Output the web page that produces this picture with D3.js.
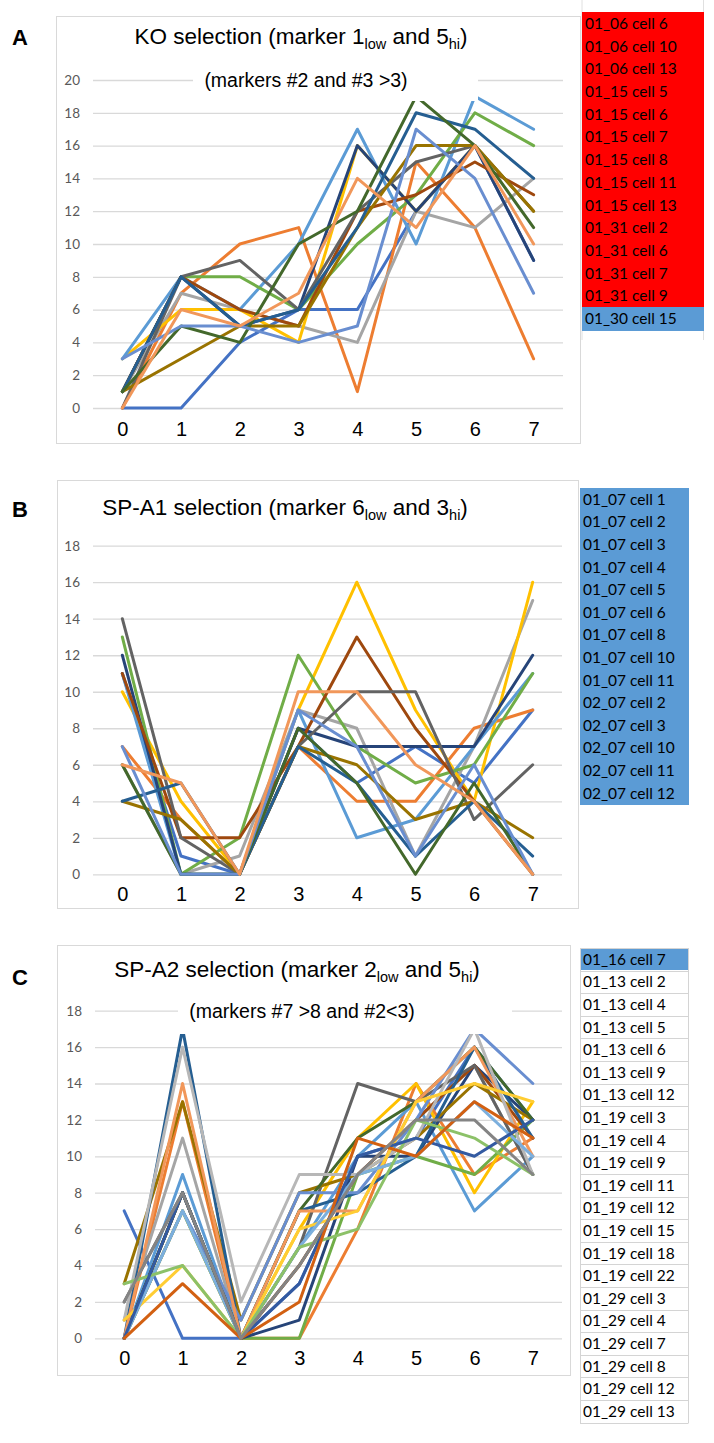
<!DOCTYPE html>
<html><head><meta charset="utf-8">
<script src="https://cdn.jsdelivr.net/npm/d3@7"></script>
<style>
html,body{margin:0;padding:0;background:#fff;}
svg{display:block;}
</style></head>
<body>
<svg id="chart" width="714" height="1443"></svg>
<script>
// ---------- DATA ----------
const categories = [0,1,2,3,4,5,6,7];
const ticksA = [0,2,4,6,8,10,12,14,16,18,20];
const ticksBC = [0,2,4,6,8,10,12,14,16,18];
const palette = ["#4472C4","#ED7D31","#A5A5A5","#FFC000","#5B9BD5","#70AD47","#264478","#9E480E",
  "#636363","#997300","#255E91","#43682B","#698ED0","#F1975A","#B7B7B7","#FFCD33","#7CAFDD",
  "#8CC168","#335AA1","#D26012","#848484"];

const koNames = ["01_06 cell 6","01_06 cell 10","01_06 cell 13","01_15 cell 5","01_15 cell 6","01_15 cell 7",
  "01_15 cell 8","01_15 cell 11","01_15 cell 13","01_31 cell 2","01_31 cell 6","01_31 cell 7","01_31 cell 9","01_30 cell 15"];
const koValues = [
  [0,0,4,6,6,12,16,9],
  [0,7,10,11,1,15,11,3],
  [1,7,6,5,4,12,11,14],
  [3,6,6,4,16,12,16,12],
  [3,8,6,10,17,10,19,17],
  [1,8,8,6,10,13,18,16],
  [1,8,5,6,16,12,16,9],
  [1,8,6,5,12,13,15,13],
  [0,8,9,6,12,15,16,12],
  [1,3,5,5,11,16,16,12],
  [1,8,5,6,11,18,17,14],
  [1,5,4,10,12,19,16,11],
  [3,5,5,4,5,17,14,7],
  [0,6,5,7,14,11,16,10]
];

const spa1Names = ["01_07 cell 1","01_07 cell 2","01_07 cell 3","01_07 cell 4","01_07 cell 5","01_07 cell 6",
  "01_07 cell 8","01_07 cell 10","01_07 cell 11","02_07 cell 2","02_07 cell 3","02_07 cell 10","02_07 cell 11","02_07 cell 12"];
const spa1Values = [
  [11,1,0,8,5,7,5,9],
  [7,3,0,7,4,4,8,9],
  [6,0,1,9,8,1,7,15],
  [10,4,0,9,16,9,4,16],
  [11,0,0,9,2,3,7,11],
  [13,0,2,12,7,5,6,11],
  [12,0,0,8,7,7,7,12],
  [11,2,2,7,13,8,4,0],
  [14,2,0,7,10,10,3,6],
  [4,3,0,7,6,3,4,2],
  [4,5,0,7,5,1,4,1],
  [6,0,0,8,5,0,5,0],
  [7,0,0,9,7,1,6,0],
  [6,5,0,10,10,6,4,0]
];

const spa2Names = ["01_16 cell 7","01_13 cell 2","01_13 cell 4","01_13 cell 5","01_13 cell 6","01_13 cell 9",
  "01_13 cell 12","01_19 cell 3","01_19 cell 4","01_19 cell 9","01_19 cell 11","01_19 cell 12","01_19 cell 15",
  "01_19 cell 18","01_19 cell 22","01_29 cell 3","01_29 cell 4","01_29 cell 7","01_29 cell 8","01_29 cell 12","01_29 cell 13"];
const spa2Values = [
  [7,0,0,3,10,11,16,12],
  [0,13,0,0,6,14,9,11],
  [1,11,0,4,9,12,15,9],
  [0,7,0,6,11,14,8,13],
  [0,9,0,5,10,13,7,10],
  [0,7,0,0,9,10,9,12],
  [0,8,0,1,10,10,15,12],
  [0,8,0,4,9,12,15,11],
  [2,8,0,5,14,13,15,9],
  [3,13,1,8,9,11,14,12],
  [0,17,0,7,8,10,16,11],
  [0,8,0,7,11,13,16,12],
  [0,7,1,8,8,12,17,14],
  [0,14,0,7,7,13,16,10],
  [1,16,2,9,9,11,17,9],
  [1,4,0,6,7,13,14,13],
  [0,7,0,5,9,10,13,10],
  [3,4,0,5,6,12,11,9],
  [0,8,0,3,10,11,10,12],
  [0,3,0,2,11,10,13,11],
  [2,8,0,4,9,12,12,9]
];

// ---------- DRAW ----------
const svg = d3.select("#chart");
const FONT_AX = "Arial, 'Liberation Sans', sans-serif";
const FONT_CAL = "Lato, 'Open Sans', sans-serif";

function panel(opt){
  const g = svg.append("g");
  g.append("rect").attr("x",opt.frame[0]+0.5).attr("y",opt.frame[1]+0.5)
    .attr("width",opt.frame[2]-opt.frame[0]).attr("height",opt.frame[3]-opt.frame[1])
    .attr("fill","#fff").attr("stroke","#D9D9D9").attr("stroke-width",1);
  const x = d3.scalePoint().domain(categories).range([opt.gx0, opt.gx1]).padding(0.5);
  const y = d3.scaleLinear().domain([0, opt.ymax]).range([opt.y0, opt.ytop]);
  const yAxis = d3.axisLeft(y).tickValues(opt.ticks).tickSize(-(opt.gx1-opt.gx0)).tickPadding(12);
  const ga = g.append("g").attr("transform",`translate(${opt.gx0},0)`).call(yAxis);
  ga.select(".domain").remove();
  ga.selectAll(".tick line").attr("stroke","#D9D9D9").attr("stroke-width",1.3);
  ga.selectAll(".tick text").attr("fill","#595959").attr("font-family",FONT_CAL)
    .attr("font-size",13.5).attr("x",opt.labelX - opt.gx0).attr("text-anchor","end");
  const xAxis = d3.axisBottom(x).tickSize(0).tickPadding(0);
  const gx = g.append("g").attr("transform",`translate(0,${opt.xLabelY})`).call(xAxis);
  gx.select(".domain").remove();
  gx.selectAll(".tick text").attr("fill","#000").attr("font-family",FONT_AX).attr("font-size",20)
    .attr("dy","0.35em");
  const line = d3.line().x((d,i)=>x(categories[i])).y(d=>y(d));
  g.append("g").selectAll("path").data(opt.values).join("path")
    .attr("d",line).attr("fill","none")
    .attr("stroke",(d,i)=>palette[i%palette.length])
    .attr("stroke-width",3).attr("stroke-linejoin","round").attr("stroke-linecap","round");
  const t = g.append("text").attr("x",opt.titleX).attr("y",opt.titleY).attr("text-anchor","middle")
    .attr("font-family",FONT_AX).attr("font-size",22.5).attr("fill","#000");
  t.append("tspan").text(opt.title[0]);
  t.append("tspan").text(opt.title[1]).attr("font-size",14.5).attr("dy",5);
  t.append("tspan").text(opt.title[2]).attr("dy",-5);
  t.append("tspan").text(opt.title[3]).attr("font-size",14.5).attr("dy",5);
  t.append("tspan").text(opt.title[4]).attr("dy",-5);
  if(opt.sub){
    g.append("rect").attr("x",opt.sub.box[0]).attr("y",opt.sub.box[1])
      .attr("width",opt.sub.box[2]-opt.sub.box[0]).attr("height",opt.sub.box[3]-opt.sub.box[1]).attr("fill","#fff");
    g.append("text").attr("x",opt.sub.x).attr("y",opt.sub.y).attr("text-anchor","middle")
      .attr("font-family",FONT_AX).attr("font-size",19.5).attr("fill","#000").text(opt.sub.text);
  }
  svg.append("text").attr("x",opt.letter[1]).attr("y",opt.letter[2]).attr("font-family",FONT_AX)
    .attr("font-weight","bold").attr("font-size",22).attr("fill","#000").text(opt.letter[0]);
}

panel({frame:[56,16,580,443], gx0:93, gx1:563, y0:408, ytop:80, ymax:20, ticks:ticksA, labelX:80,
  xLabelY:429, values:koValues, titleX:301, titleY:44,
  title:["KO selection (marker 1","low"," and 5","hi",")"],
  sub:{box:[193,58,478,101], x:306, y:87, text:"(markers #2 and #3 >3)"}, letter:["A",12,45]});

panel({frame:[57,480,578,908], gx0:93, gx1:562, y0:874.3, ytop:545.7, ymax:18, ticks:ticksBC, labelX:80,
  xLabelY:894, values:spa1Values, titleX:285, titleY:515,
  title:["SP-A1 selection (marker 6","low"," and 3","hi",")"], letter:["B",12,517]});

panel({frame:[57,945,570,1375], gx0:95, gx1:562, y0:1338.3, ytop:1010.7, ymax:18, ticks:ticksBC, labelX:82,
  xLabelY:1358, values:spa2Values, titleX:297, titleY:977,
  title:["SP-A2 selection (marker 2","low"," and 5","hi",")"],
  sub:{box:[178,990,512,1034], x:302, y:1018, text:"(markers #7 >8 and #2<3)"}, letter:["C",12,985]});

// ---------- LEGEND TABLES ----------
function legend(names, x0, x1, top, rowH, fillFn, borders){
  const g = svg.append("g");
  // merged background runs to avoid seams
  names.forEach((n,i)=>{
    const yy = top + i*rowH;
    g.append("rect").attr("x",x0).attr("y",Math.floor(yy)).attr("width",x1-x0).attr("height",Math.ceil(rowH)+1)
      .attr("fill",fillFn(i));
  });
  if(borders){
    names.forEach((n,i)=>{
      const yy = Math.round(top + i*rowH)+0.5;
      g.append("line").attr("x1",x0).attr("x2",x1).attr("y1",yy).attr("y2",yy).attr("stroke","#D4D4D4");
    });
    const yEnd = Math.round(top + names.length*rowH)+0.5;
    g.append("line").attr("x1",x0).attr("x2",x1).attr("y1",yEnd).attr("y2",yEnd).attr("stroke","#D4D4D4");
    g.append("line").attr("x1",x0+0.5).attr("x2",x0+0.5).attr("y1",top).attr("y2",yEnd).attr("stroke","#D4D4D4");
    g.append("line").attr("x1",x1+0.5).attr("x2",x1+0.5).attr("y1",top).attr("y2",yEnd).attr("stroke","#D4D4D4");
  }
  names.forEach((n,i)=>{
    const yy = top + i*rowH;
    g.append("text").attr("x",x0+3).attr("y",yy+rowH/2).attr("dy","0.36em")
      .attr("font-family",FONT_CAL).attr("font-size",15.5).attr("fill","#000").text(n);
  });
}
svg.append("line").attr("x1",703.5).attr("x2",703.5).attr("y1",0).attr("y2",340).attr("stroke","#E0E0E0");
svg.append("line").attr("x1",582).attr("x2",582).attr("y1",0).attr("y2",340).attr("stroke","#E0E0E0");
legend(koNames.slice(0,13), 582, 704, 12, 22.7, () => "#FF0000", false);
legend(koNames.slice(13), 582, 704, 12+13*22.7, 22.7, () => "#5B9BD5", false);
legend(spa1Names, 580, 689, 488, 22.6, () => "#5B9BD5", false);
legend(spa2Names, 580, 688, 948, 22.6, i => i === 0 ? "#5B9BD5" : "#FFFFFF", true);
</script>
</body></html>
